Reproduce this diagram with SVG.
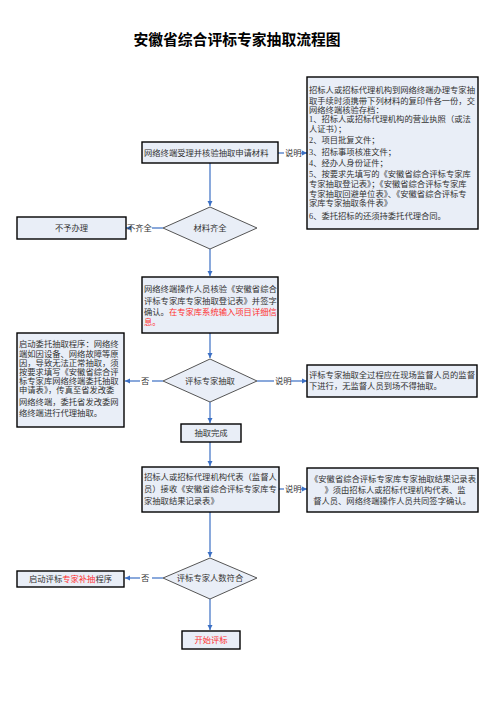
<svg xmlns="http://www.w3.org/2000/svg" width="497" height="703" viewBox="0 0 497 703">
<defs>
<style>
.box{fill:#e9eef7;stroke:#000;stroke-width:1.4}
.dia{fill:#e9eef7;stroke:#555;stroke-width:1}
.t{font-family:"Liberation Serif","Noto Sans CJK SC",serif;font-size:8.3px;fill:#333}
.c{text-anchor:middle}
.red{fill:#ff3030}
.title{font-family:"Noto Sans CJK SC",sans-serif;font-size:14.8px;font-weight:bold;fill:#000;text-anchor:middle}
.ln{fill:none;stroke:#3b6fc4;stroke-width:1.2}
.lb{font-family:"Liberation Serif","Noto Sans CJK SC",serif;font-size:8.3px;fill:#333}
</style>
<marker id="ah" markerWidth="6" markerHeight="6" refX="5" refY="3" orient="auto" markerUnits="userSpaceOnUse">
<path d="M0,0.5 L5,3 L0,5.5 Z" fill="#3b6fc4"/>
</marker>
</defs>
<rect width="497" height="703" fill="#fff"/>
<text class="title" x="237" y="45">安徽省综合评标专家抽取流程图</text>

<g id="connectors">
<line class="ln" x1="210" y1="163" x2="210" y2="206" marker-end="url(#ah)"/>
<line class="ln" x1="278" y1="153" x2="284" y2="153"/>
<line class="ln" x1="301" y1="153" x2="307" y2="153" marker-end="url(#ah)"/>
<line class="ln" x1="163" y1="228" x2="152" y2="228"/>
<line class="ln" x1="128" y1="228" x2="126" y2="228" marker-end="url(#ah)"/>
<line class="ln" x1="210" y1="249" x2="210" y2="276" marker-end="url(#ah)"/>
<line class="ln" x1="210" y1="333" x2="210" y2="358" marker-end="url(#ah)"/>
<line class="ln" x1="163" y1="381" x2="152" y2="381"/>
<line class="ln" x1="140" y1="381" x2="125" y2="381" marker-end="url(#ah)"/>
<line class="ln" x1="257" y1="381" x2="274" y2="381"/>
<line class="ln" x1="291" y1="381" x2="307" y2="381" marker-end="url(#ah)"/>
<line class="ln" x1="210" y1="402" x2="210" y2="423" marker-end="url(#ah)"/>
<line class="ln" x1="210" y1="442" x2="210" y2="466" marker-end="url(#ah)"/>
<line class="ln" x1="279" y1="489" x2="284" y2="489"/>
<line class="ln" x1="301" y1="489" x2="307" y2="489" marker-end="url(#ah)"/>
<line class="ln" x1="210" y1="512" x2="210" y2="557" marker-end="url(#ah)"/>
<line class="ln" x1="163" y1="578" x2="152" y2="578"/>
<line class="ln" x1="140" y1="578" x2="125" y2="578" marker-end="url(#ah)"/>
<line class="ln" x1="210" y1="599" x2="210" y2="630" marker-end="url(#ah)"/>
<text class="lb" x="285" y="156">说明</text>
<text class="lb" x="127" y="231">不齐全</text>
<text class="lb" x="141" y="384">否</text>
<text class="lb" x="275" y="384">说明</text>
<text class="lb" x="285" y="492">说明</text>
<text class="lb" x="141" y="581">否</text>
</g>

<g id="n-materials-note">
<rect class="box" x="307" y="77" width="171" height="152"/>
<text class="t" x="309" y="93">招标人或招标代理机构到网络终端办理专家抽</text>
<text class="t" x="309" y="103.7">取手续时须携带下列材料的复印件各一份，交</text>
<text class="t" x="309" y="113">网络终端核验存档：</text>
<text class="t" x="309" y="122.3">1、招标人或招标代理机构的营业执照（或法</text>
<text class="t" x="309" y="132">人证书）；</text>
<text class="t" x="309" y="143.3">2、项目批复文件；</text>
<text class="t" x="309" y="154.7">3、招标事项核准文件；</text>
<text class="t" x="309" y="166.3">4、经办人身份证件；</text>
<text class="t" x="309" y="177.3">5、按要求先填写的《安徽省综合评标专家库</text>
<text class="t" x="309" y="187">专家抽取登记表》；《安徽省综合评标专家库</text>
<text class="t" x="309" y="196.7">专家抽取回避单位表》、《安徽省综合评标专</text>
<text class="t" x="309" y="206">家库专家抽取条件表》</text>
<text class="t" x="309" y="218.7">6、委托招标的还须持委托代理合同。</text>
</g>

<g id="n-accept">
<rect class="box" x="142" y="142" width="136" height="21"/>
<text class="t" x="144" y="156">网络终端受理并核验抽取申请材料</text>
</g>

<g id="n-complete">
<polygon class="dia" points="210,207 257,228 210,249 163,228"/>
<text class="t c" x="210" y="231">材料齐全</text>
</g>

<g id="n-reject">
<rect class="box" x="17" y="217" width="109" height="22"/>
<text class="t c" x="71.5" y="231">不予办理</text>
</g>

<g id="n-verify">
<rect class="box" x="142" y="277" width="136" height="56"/>
<text class="t" x="144" y="292">网络终端操作人员核验《安徽省综合</text>
<text class="t" x="144" y="303.5">评标专家库专家抽取登记表》并签字</text>
<text class="t" x="144" y="315">确认。<tspan class="red">在专家库系统输入项目详细信</tspan></text>
<text class="t red" x="144" y="325">息。</text>
</g>

<g id="n-extract">
<polygon class="dia" points="210,359 257,381 210,402 163,381"/>
<text class="t c" x="210" y="384">评标专家抽取</text>
</g>

<g id="n-entrust">
<rect class="box" x="17" y="333" width="107" height="94"/>
<text class="t" x="19" y="347">启动委托抽取程序：网络终</text>
<text class="t" x="19" y="356.5">端如因设备、网络故障等原</text>
<text class="t" x="19" y="366">因，导致无法正常抽取，须</text>
<text class="t" x="19" y="375">按要求填写《安徽省综合评</text>
<text class="t" x="19" y="384">标专家库网络终端委托抽取</text>
<text class="t" x="19" y="393">申请表》，传真至省发改委</text>
<text class="t" x="19" y="404.5">网络终端，委托省发改委网</text>
<text class="t" x="19" y="416">络终端进行代理抽取。</text>
</g>

<g id="n-supervise-note">
<rect class="box" x="307" y="365" width="170" height="32"/>
<text class="t" x="309" y="378">评标专家抽取全过程应在现场监督人员的监督</text>
<text class="t" x="309" y="388.5">下进行，无监督人员到场不得抽取。</text>
</g>

<g id="n-done">
<rect class="box" x="181" y="424" width="60" height="18"/>
<text class="t c" x="211" y="436">抽取完成</text>
</g>

<g id="n-receive">
<rect class="box" x="142" y="467" width="137" height="45"/>
<text class="t" x="144" y="480">招标人或招标代理机构代表（监督人</text>
<text class="t" x="144" y="492">员）接收《安徽省综合评标专家库专</text>
<text class="t" x="144" y="504">家抽取结果记录表》</text>
</g>

<g id="n-record-note">
<rect class="box" x="307" y="468" width="171" height="44"/>
<text class="t c" x="393" y="482">《安徽省综合评标专家库专家抽取结果记录表</text>
<text class="t c" x="395" y="493">》须由招标人或招标代理机构代表、监</text>
<text class="t c" x="392" y="504">督人员、网络终端操作人员共同签字确认。</text>
</g>

<g id="n-count">
<polygon class="dia" points="210,558 257,578 210,599 163,578"/>
<text class="t c" x="210" y="581">评标专家人数符合</text>
</g>

<g id="n-supplement">
<rect class="box" x="17" y="571" width="107" height="16"/>
<text class="t c" x="70.5" y="582">启动评标<tspan class="red">专家补抽</tspan>程序</text>
</g>

<g id="n-start">
<rect class="box" x="182" y="631" width="58" height="18"/>
<text class="t c red" x="211" y="643">开始评标</text>
</g>
</svg>
